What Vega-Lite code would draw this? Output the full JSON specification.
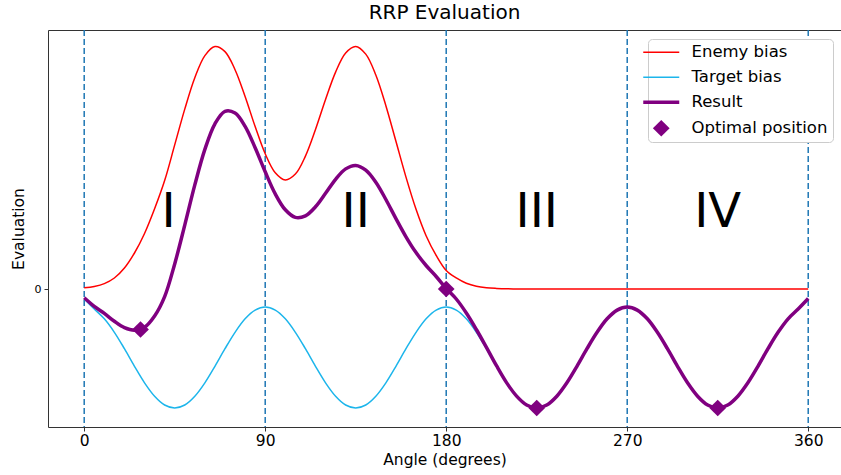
{
  "$schema": "https://vega.github.io/schema/vega-lite/v6.json",
  "width": 793,
  "height": 397,
  "autosize": "none",
  "padding": {"left": 48, "top": 30, "right": 0, "bottom": 48},
  "background": "white",
  "title": {"text": "RRP Evaluation", "fontSize": 20, "fontWeight": "normal", "color": "#000", "offset": 6},
  "config": {
    "font": "DejaVu Sans",
    "view": {"stroke": "#333", "strokeWidth": 1},
    "axis": {"grid": false, "domain": false, "tickColor": "#333", "tickSize": 4, "labelColor": "#000", "titleColor": "#000", "titleFontWeight": "normal"},
    "axisX": {"labelFontSize": 15.5, "titleFontSize": 15.5, "labelPadding": 2, "titlePadding": 4},
    "axisY": {"labelFontSize": 11, "titleFontSize": 15.5, "labelPadding": 3, "titlePadding": 8}
  },
  "datasets": {
    "curves": [
      {"a": 0, "Enemy bias": 1.2, "Target bias": -10, "Result": -8.8},
      {"a": 5, "Enemy bias": 2.6, "Target bias": -20, "Result": -17.4},
      {"a": 10, "Enemy bias": 5.4, "Target bias": -29.8, "Result": -24.4},
      {"a": 15, "Enemy bias": 11.0, "Target bias": -43.3, "Result": -32.3},
      {"a": 20, "Enemy bias": 21.0, "Target bias": -59.7, "Result": -38.7},
      {"a": 25, "Enemy bias": 36.0, "Target bias": -77.3, "Result": -41.3},
      {"a": 30, "Enemy bias": 55.5, "Target bias": -93.8, "Result": -38.3},
      {"a": 35, "Enemy bias": 80.2, "Target bias": -107.2, "Result": -27.0},
      {"a": 40, "Enemy bias": 108.4, "Target bias": -116.0, "Result": -7.6},
      {"a": 45, "Enemy bias": 144.1, "Target bias": -119, "Result": 25.1},
      {"a": 50, "Enemy bias": 179.9, "Target bias": -116.0, "Result": 63.9},
      {"a": 55, "Enemy bias": 211.3, "Target bias": -107.2, "Result": 104.1},
      {"a": 60, "Enemy bias": 233.4, "Target bias": -93.8, "Result": 139.6},
      {"a": 65, "Enemy bias": 242.5, "Target bias": -77.3, "Result": 165.2},
      {"a": 70, "Enemy bias": 237.4, "Target bias": -59.7, "Result": 177.7},
      {"a": 75, "Enemy bias": 219.3, "Target bias": -43.3, "Result": 176.0},
      {"a": 80, "Enemy bias": 192.5, "Target bias": -29.8, "Result": 162.7},
      {"a": 85, "Enemy bias": 162.4, "Target bias": -21.1, "Result": 141.3},
      {"a": 90, "Enemy bias": 135.2, "Target bias": -18, "Result": 117.2},
      {"a": 95, "Enemy bias": 116.2, "Target bias": -21.1, "Result": 95.1},
      {"a": 100, "Enemy bias": 109.0, "Target bias": -29.8, "Result": 79.2},
      {"a": 105, "Enemy bias": 114.9, "Target bias": -43.3, "Result": 71.6},
      {"a": 110, "Enemy bias": 132.9, "Target bias": -59.7, "Result": 73.2},
      {"a": 115, "Enemy bias": 159.5, "Target bias": -77.3, "Result": 82.2},
      {"a": 120, "Enemy bias": 189.5, "Target bias": -93.8, "Result": 95.7},
      {"a": 125, "Enemy bias": 216.9, "Target bias": -107.2, "Result": 109.7},
      {"a": 130, "Enemy bias": 236.1, "Target bias": -116.0, "Result": 120.1},
      {"a": 135, "Enemy bias": 242.6, "Target bias": -119, "Result": 123.6},
      {"a": 140, "Enemy bias": 234.9, "Target bias": -116.0, "Result": 118.9},
      {"a": 145, "Enemy bias": 214.0, "Target bias": -107.2, "Result": 106.8},
      {"a": 150, "Enemy bias": 183.3, "Target bias": -93.8, "Result": 89.5},
      {"a": 155, "Enemy bias": 147.7, "Target bias": -77.3, "Result": 70.4},
      {"a": 160, "Enemy bias": 111.9, "Target bias": -59.7, "Result": 52.2},
      {"a": 165, "Enemy bias": 79.7, "Target bias": -43.3, "Result": 36.4},
      {"a": 170, "Enemy bias": 53.3, "Target bias": -29.8, "Result": 23.5},
      {"a": 175, "Enemy bias": 33.6, "Target bias": -21.1, "Result": 12.5},
      {"a": 180, "Enemy bias": 18.5, "Target bias": -18, "Result": 0.5},
      {"a": 185, "Enemy bias": 11.1, "Target bias": -21.1, "Result": -10.0},
      {"a": 190, "Enemy bias": 5.8, "Target bias": -29.8, "Result": -24.0},
      {"a": 195, "Enemy bias": 2.8, "Target bias": -43.3, "Result": -40.5},
      {"a": 200, "Enemy bias": 1.3, "Target bias": -59.7, "Result": -58.4},
      {"a": 205, "Enemy bias": 0.6, "Target bias": -77.3, "Result": -76.7},
      {"a": 210, "Enemy bias": 0.2, "Target bias": -93.8, "Result": -93.6},
      {"a": 215, "Enemy bias": 0.1, "Target bias": -107.2, "Result": -107.1},
      {"a": 220, "Enemy bias": 0, "Target bias": -116.0, "Result": -116.0},
      {"a": 225, "Enemy bias": 0, "Target bias": -119, "Result": -119},
      {"a": 230, "Enemy bias": 0, "Target bias": -116.0, "Result": -116.0},
      {"a": 235, "Enemy bias": 0, "Target bias": -107.2, "Result": -107.2},
      {"a": 240, "Enemy bias": 0, "Target bias": -93.8, "Result": -93.8},
      {"a": 245, "Enemy bias": 0, "Target bias": -77.3, "Result": -77.3},
      {"a": 250, "Enemy bias": 0, "Target bias": -59.7, "Result": -59.7},
      {"a": 255, "Enemy bias": 0, "Target bias": -43.3, "Result": -43.3},
      {"a": 260, "Enemy bias": 0, "Target bias": -29.8, "Result": -29.8},
      {"a": 265, "Enemy bias": 0, "Target bias": -21.1, "Result": -21.1},
      {"a": 270, "Enemy bias": 0, "Target bias": -18, "Result": -18},
      {"a": 275, "Enemy bias": 0, "Target bias": -21.1, "Result": -21.1},
      {"a": 280, "Enemy bias": 0, "Target bias": -29.8, "Result": -29.8},
      {"a": 285, "Enemy bias": 0, "Target bias": -43.3, "Result": -43.3},
      {"a": 290, "Enemy bias": 0, "Target bias": -59.7, "Result": -59.7},
      {"a": 295, "Enemy bias": 0, "Target bias": -77.3, "Result": -77.3},
      {"a": 300, "Enemy bias": 0, "Target bias": -93.8, "Result": -93.8},
      {"a": 305, "Enemy bias": 0, "Target bias": -107.2, "Result": -107.2},
      {"a": 310, "Enemy bias": 0, "Target bias": -116.0, "Result": -116.0},
      {"a": 315, "Enemy bias": 0, "Target bias": -119, "Result": -119},
      {"a": 320, "Enemy bias": 0, "Target bias": -116.0, "Result": -116.0},
      {"a": 325, "Enemy bias": 0, "Target bias": -107.2, "Result": -107.2},
      {"a": 330, "Enemy bias": 0, "Target bias": -93.8, "Result": -93.8},
      {"a": 335, "Enemy bias": 0, "Target bias": -77.3, "Result": -77.3},
      {"a": 340, "Enemy bias": 0, "Target bias": -59.7, "Result": -59.7},
      {"a": 345, "Enemy bias": 0, "Target bias": -43.3, "Result": -43.3},
      {"a": 350, "Enemy bias": 0, "Target bias": -29.8, "Result": -29.8},
      {"a": 355, "Enemy bias": 0, "Target bias": -20, "Result": -20},
      {"a": 360, "Enemy bias": 0, "Target bias": -9.5, "Result": -9.5}
    ],
    "opt": [
      {"a": 28, "val": -40.5},
      {"a": 180, "val": 0},
      {"a": 225, "val": -119},
      {"a": 315, "val": -119}
    ],
    "vlines": [{"a": 0}, {"a": 90}, {"a": 180}, {"a": 270}, {"a": 360}],
    "labels": [
      {"a": 42, "val": 76, "t": "I"},
      {"a": 135, "val": 76, "t": "II"},
      {"a": 225, "val": 76, "t": "III"},
      {"a": 315, "val": 76, "t": "IV"}
    ]
  },
  "layer": [
    {
      "data": {"name": "vlines"},
      "mark": {"type": "rule", "color": "#1f77b4", "strokeWidth": 1.5, "strokeDash": [6, 3]},
      "encoding": {
        "x": {"field": "a", "type": "quantitative", "scale": {"domain": [-18, 376.3], "nice": false, "zero": false}, "axis": {"values": [0, 90, 180, 270, 360], "title": "Angle (degrees)"}}
      }
    },
    {
      "data": {"name": "curves"},
      "encoding": {
        "x": {"field": "a", "type": "quantitative", "scale": {"domain": [-18, 376.3], "nice": false, "zero": false}, "axis": {"values": [0, 90, 180, 270, 360], "title": "Angle (degrees)"}},
        "y": {"field": "val", "type": "quantitative", "scale": {"domain": [-138, 259], "nice": false, "zero": false}, "axis": {"values": [0], "title": "Evaluation"}},
        "color": {
          "field": "series", "type": "nominal",
          "scale": {"domain": ["Enemy bias", "Target bias", "Result", "Optimal position"], "range": ["#ff0000", "#1cb5eb", "#800080", "#800080"]},
          "legend": {
            "title": null, "orient": "none", "legendX": 600, "legendY": 9,
            "symbolType": "stroke", "symbolSize": 1296, "symbolStrokeWidth": 1.5,
            "labelFontSize": 16.5, "labelColor": "#000", "labelOffset": 22, "labelLimit": 300,
            "rowPadding": 8, "padding": 5, "strokeColor": "#cccccc", "fillColor": "white", "cornerRadius": 4,
            "encode": {
              "symbols": {
                "update": {
                  "shape": {"signal": "datum.value === 'Optimal position' ? 'diamond' : 'stroke'"},
                  "size": {"signal": "datum.value === 'Optimal position' ? 280 : 1296"},
                  "strokeWidth": {"signal": "datum.value === 'Result' ? 3.5 : (datum.value === 'Optimal position' ? 0 : 1.5)"},
                  "fill": {"signal": "datum.value === 'Optimal position' ? '#800080' : 'transparent'"}
                }
              }
            }
          }
        }
      },
      "layer": [
        {
          "transform": [{"fold": ["Enemy bias", "Target bias"], "as": ["series", "val"]}],
          "mark": {"type": "line", "strokeWidth": 1.5, "interpolate": "catmull-rom"}
        },
        {
          "transform": [{"fold": ["Result"], "as": ["series", "val"]}],
          "mark": {"type": "line", "strokeWidth": 3.5, "interpolate": "catmull-rom"}
        }
      ]
    },
    {
      "data": {"name": "opt"},
      "mark": {"type": "point", "shape": "diamond", "filled": true, "color": "#800080", "size": 280, "opacity": 1},
      "encoding": {
        "x": {"field": "a", "type": "quantitative", "scale": {"domain": [-18, 376.3], "nice": false, "zero": false}, "axis": {"values": [0, 90, 180, 270, 360], "title": "Angle (degrees)"}},
        "y": {"field": "val", "type": "quantitative", "scale": {"domain": [-138, 259], "nice": false, "zero": false}, "axis": {"values": [0], "title": "Evaluation"}}
      }
    },
    {
      "data": {"name": "labels"},
      "mark": {"type": "text", "fontSize": 48, "align": "center", "baseline": "middle", "color": "#000"},
      "encoding": {
        "x": {"field": "a", "type": "quantitative", "scale": {"domain": [-18, 376.3], "nice": false, "zero": false}, "axis": {"values": [0, 90, 180, 270, 360], "title": "Angle (degrees)"}},
        "y": {"field": "val", "type": "quantitative", "scale": {"domain": [-138, 259], "nice": false, "zero": false}, "axis": {"values": [0], "title": "Evaluation"}},
        "text": {"field": "t", "type": "nominal"}
      }
    }
  ]
}
